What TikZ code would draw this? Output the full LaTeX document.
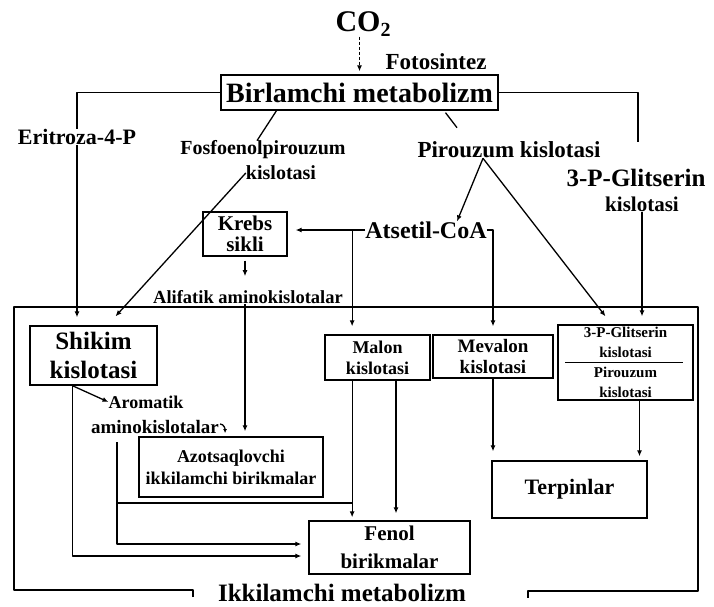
\documentclass[tikz,border=0pt]{standalone}
\usepackage{fontspec}
\setmainfont{Liberation Serif}
\usetikzlibrary{arrows.meta,calc}
\newcommand\fz[2]{\fontsize{#1}{#2}\selectfont\bfseries}
\tikzset{
  ln/.style={line width=1.3pt, line join=round},
  arr/.style={ln, -{Latex[length=6pt,width=5pt]}},
  box/.style={draw, line width=1.3pt, inner sep=0pt, align=center},
  lbl/.style={inner sep=0pt, align=center},
}
\begin{document}
\begin{tikzpicture}[x=1pt,y=-1pt]
\useasboundingbox (0,0) rectangle (714,606);
% labels
\node[lbl,font=\fz{30}{32}] (co2) at (363,24) {CO\raisebox{-0.35ex}{\fontsize{20}{20}\selectfont 2}};
\node[lbl,font=\fz{23}{25}] (fot) at (436,62) {Fotosintez};
\node[box,minimum width=277pt,minimum height=35pt,font=\fz{28}{30}] (birl) at (359.5,92.5) {Birlamchi metabolizm};
\node[lbl,font=\fz{22}{24}] (erit) at (77,137) {Eritroza-4-P};
\node[lbl,font=\fz{20}{22}] (fosf1) at (263,150) {Fosfoenolpirouzum};
\node[lbl,font=\fz{20}{22}] (fosf2) at (281,173) {kislotasi};
\node[lbl,font=\fz{23}{25}] (piro) at (509,150) {Pirouzum kislotasi};
\node[lbl,font=\fz{25}{27}] (glit1) at (636,178) {3-P-Glitserin};
\node[lbl,font=\fz{21}{23}] (glit2) at (642,204) {kislotasi};
\node[lbl,font=\fz{24}{26}] (atset) at (426,230) {Atsetil-CoA};
\node[box,minimum width=84pt,minimum height=44pt,font=\fz{21}{21}] (krebs) at (245,234) {Krebs\\sikli};
\node[lbl,font=\fz{18.5}{20}] (alif) at (248,297) {Alifatik aminokislotalar};
% big frame
\draw[ln] (193,597) -- (193,590) -- (14,590) -- (14,307) -- (698,307) -- (698,591) -- (528,591) -- (528,598);
\node[lbl,font=\fz{25}{27}] (ikki) at (342,593) {Ikkilamchi metabolizm};
% inner boxes
\node[box,minimum width=127pt,minimum height=59pt,font=\fz{25}{29}] (shikim) at (93.5,355.5) {Shikim\\kislotasi};
\node[box,minimum width=105pt,minimum height=45pt,font=\fz{18}{21}] (malon) at (377.5,357.5) {Malon\\kislotasi};
\node[box,minimum width=120pt,minimum height=43pt,font=\fz{19}{21}] (mev) at (493,356.5) {Mevalon\\kislotasi};
\node[box,minimum width=135pt,minimum height=75pt,font=\fz{15}{20}] (gbox) at (625.5,362.5) {3-P-Glitserin\\kislotasi\\Pirouzum\\kislotasi};
\draw[ln] ($(gbox.center)+(-60.5,0)$) -- ($(gbox.center)+(57.5,0)$);
\node[lbl,font=\fz{18}{20}] (arom1) at (146,402) {Aromatik};
\node[lbl,font=\fz{19}{21}] (arom2) at (155,427) {aminokislotalar};
\node[box,minimum width=184pt,minimum height=60pt,font=\fz{18}{22}] (azot) at (231,467) {Azotsaqlovchi\\ikkilamchi birikmalar};
\node[box,minimum width=155pt,minimum height=57pt,font=\fz{22}{24}] (terp) at (569.5,489.5) {Terpinlar};
\node[box,minimum width=161pt,minimum height=53pt,font=\fz{21}{28}] (fenol) at (389.5,547.5) {Fenol\\birikmalar};
% connectors
\draw[arr, dash pattern=on 3pt off 2pt, shorten >=3pt] (co2.south -| birl.north) -- (birl.north);
\draw[ln] (birl.west) -| (erit.north);
\draw[arr, shorten >=8pt] (erit.south) -- (erit.south |- shikim.north);
\coordinate (rtop) at (638,142);
\draw[ln] (birl.east) -| (rtop);
\draw[ln] ($(birl.south)+(-83,0)$) -- ($(fosf1.north)+(-6,0)$);
\coordinate (pslash) at ($(birl.south)+(86,2)$);
\draw[ln] (pslash) -- ($(piro.north)+(-52,-14)$);
\draw[arr] (fosf2.west) -- ($(shikim.north)+(22,-9)$);
\coordinate (apex) at ($(piro.south)+(-26,0)$);
\draw[arr] (apex) -- ($(atset.north)+(31,0)$);
\draw[arr] (apex) -- ($(gbox.north)+(-20,-8)$);
\draw[arr, shorten >=8pt] (glit2.south) -- (glit2.south |- gbox.north);
\draw[arr, shorten >=8pt] (atset.west) -- (atset.west -| krebs.east);
\coordinate (lb) at ($(atset.west)+(-13,0)$);
\draw[arr, shorten >=8pt] (lb) -- (lb |- malon.north);
\draw[arr, shorten >=8pt] (atset.east) -| (mev.north);
\draw[arr, shorten <=4pt, shorten >=14pt] (krebs.south) -- (krebs.south |- alif.north);
\draw[arr, shorten >=5pt] (alif.south -| krebs.south) -- (krebs.south |- azot.north);
\coordinate (sb) at ($(shikim.south west)+(43,0)$);
\draw[arr, shorten >=7pt] (sb) |- ($(fenol.west)+(0,8.5)$);
\draw[arr] (sb) -- (arom1.west);
\draw[ln, -{Latex[length=4pt,width=4pt]}] ($(arom2.east)+(1,-3)$) to[out=0,in=90] ++(5,9);
\coordinate (az1) at (117,442);
\draw[arr, shorten >=7pt] (az1) |- ($(fenol.west)+(0,-3.5)$);
\coordinate (az2) at (117,503);
\draw[ln] (az2) -- (az2 -| lb);
\draw[arr, shorten >=3pt] (lb |- malon.south) -- (lb |- fenol.north);
\coordinate (m2) at ($(malon.south)+(18.5,0)$);
\draw[arr, shorten >=7pt] (m2) -- (m2 |- fenol.north);
\draw[arr, shorten >=9pt] (mev.south) -- (mev.south |- terp.north);
\coordinate (g2) at ($(gbox.south)+(14,0)$);
\draw[arr, shorten >=4pt] (g2) -- (g2 |- terp.north);
\end{tikzpicture}
\end{document}
